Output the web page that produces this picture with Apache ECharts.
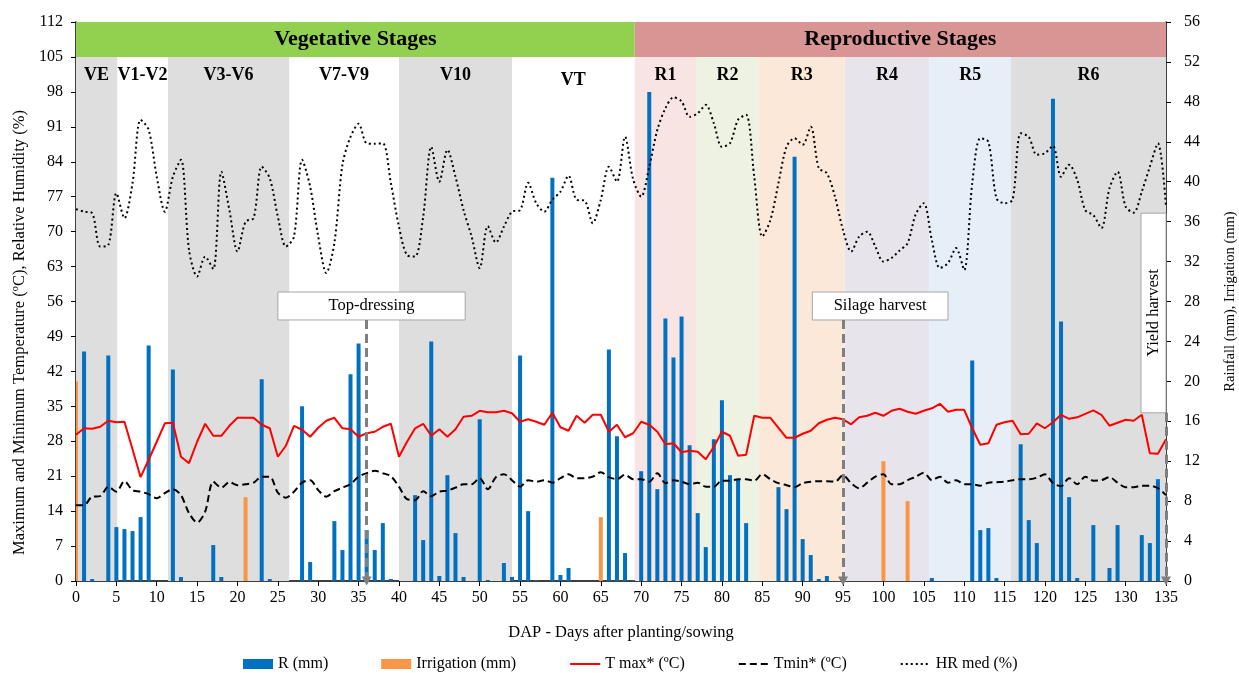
<!DOCTYPE html>
<html>
<head>
<meta charset="utf-8">
<script src="https://cdn.jsdelivr.net/npm/echarts@6/dist/echarts.min.js"></script>
<style>html,body{margin:0;padding:0;background:#fff;overflow:hidden}#c{width:1239px;height:673px}</style>
</head>
<body>
<div id="c"></div>
<script>
// ---------- DATA (day index 0..135) ----------
const rain = [0,23.0,0.2,0,22.6,5.4,5.2,5.0,6.4,23.6, 0,0,21.2,0.4,0,0,0,3.6,0.4,0,
  0,0,0,20.2,0.2,0,0,0,17.5,1.9, 0,0,6.0,3.1,20.7,23.8,5.1,3.1,5.8,0.2,
  0,0,8.6,4.1,24.0,0.5,10.6,4.8,0.4,0, 16.2,0.1,0,1.8,0.4,22.6,7.0,0.1,0,40.4,
  0.6,1.3,0,0,0,0,23.2,14.5,2.8,0.1, 11.0,49.0,9.2,26.3,22.4,26.5,13.6,6.8,3.4,14.2,
  18.1,10.6,10.2,5.8,0,0,0,9.4,7.2,42.5, 4.2,2.6,0.2,0.5,0,0,0,0,0,0,
  0,0,0,0,0,0,0.3,0,0,0, 0,22.1,5.1,5.3,0.3,0,0,13.7,6.1,3.8,
  0,48.3,26.0,8.4,0.3,0,5.6,0,1.3,5.6, 0,0,4.6,3.8,10.2,0];
const irrigationDays = [0, 21, 65, 100, 103];
const irrigationValues = [20.0, 8.4, 6.4, 12.0, 8.0];
const tmax = [29.3,30.6,30.5,30.9,32.1,31.8,31.9,26.4,20.8,24.3, 27.9,31.6,31.7,24.9,23.6,27.9,31.5,29.1,29.1,31.1,
  32.7,32.7,32.7,31.3,30.6,24.9,27.1,31.1,30.3,28.9, 30.7,32.1,32.7,30.6,30.4,28.9,29.6,29.9,30.9,31.5,
  24.9,27.9,30.6,31.5,29.1,30.4,28.9,30.4,32.9,33.1, 34.1,33.8,33.8,34.1,33.6,31.9,32.4,31.9,31.3,33.7,
  30.8,30.1,33.1,31.7,33.3,33.3,29.9,31.3,28.8,29.6, 31.9,31.3,29.9,27.4,27.6,25.8,26.1,25.9,24.4,26.9,
  29.9,29.1,25.1,25.3,33.1,32.7,32.7,30.7,28.7,28.7, 29.5,30.1,31.6,32.3,32.7,32.4,31.4,32.8,33.1,33.7,
  33.1,34.1,34.5,33.9,33.5,34.1,34.6,35.5,33.9,34.3, 34.3,30.6,27.3,27.6,31.3,31.8,32.1,29.4,29.5,31.6,
  30.6,31.8,33.3,32.5,32.8,33.5,34.2,33.3,31.1,31.7, 32.3,32.1,33.3,25.6,25.5,28.4];
const tmin = [15.2,15.2,16.9,17.0,18.9,17.9,20.0,18.2,17.9,17.4, 16.6,17.6,18.4,17.2,13.6,11.7,13.9,19.9,18.7,19.8,
  19.2,19.4,19.7,20.9,20.9,17.7,16.7,17.9,19.7,20.2, 18.2,16.9,18.0,18.7,19.4,20.9,21.6,22.1,21.6,21.0,
  18.9,16.4,16.2,18.0,17.0,17.9,18.1,18.7,19.4,19.4, 20.6,18.4,20.8,21.4,20.2,18.9,20.2,19.9,20.2,19.7,
  20.6,21.4,20.6,20.6,20.9,21.8,20.8,20.4,21.3,20.4, 20.4,19.9,21.6,19.6,20.2,19.9,19.4,19.7,18.9,18.9,
  20.1,20.1,20.4,20.4,20.1,21.4,20.4,19.6,19.2,18.8, 19.6,19.9,20.0,20.0,19.9,21.2,19.6,18.6,19.7,20.9,
  21.4,19.4,19.4,20.2,20.9,21.7,20.2,20.9,19.7,20.2, 19.4,19.4,19.1,19.7,19.8,19.9,20.2,20.4,20.4,20.7,
  21.4,19.6,19.0,20.6,19.4,20.9,20.1,20.2,20.8,19.7, 18.8,18.8,19.1,19.1,18.6,17.2];
const hr = [74.5,74.0,73.7,67.0,67.3,77.7,72.7,79.7,92.4,90.4, 81.0,74.0,81.0,84.4,66.3,61.0,65.0,62.5,82.0,74.3,
  66.0,72.0,72.7,83.0,80.7,73.0,67.0,69.0,84.4,79.0, 69.0,61.7,67.7,83.4,89.0,91.6,87.7,87.6,87.7,79.7,
  71.0,65.3,65.0,73.0,87.0,80.0,86.4,81.0,74.3,69.0, 62.7,71.1,67.8,71.0,74.0,74.3,79.8,75.7,74.0,76.4,
  78.0,81.2,76.4,76.2,71.7,76.4,83.0,80.0,89.0,80.5, 77.0,83.0,90.4,94.7,96.9,96.1,93.0,93.7,95.4,91.7,
  87.0,87.7,92.4,93.4,81.0,69.0,72.3,79.7,87.0,88.7, 87.4,91.0,82.7,81.7,77.0,70.3,66.0,69.0,70.0,67.0,
  64.0,64.7,66.2,67.7,73.5,75.7,68.3,62.7,63.7,66.7, 62.3,79.7,88.7,88.0,76.7,75.7,76.4,89.7,89.0,85.4,
  85.7,87.2,81.0,83.4,80.4,74.3,73.3,70.7,78.7,82.0, 75.0,73.8,78.0,83.0,87.7,75.0];
const stageNames = ['VE','V1-V2','V3-V6','V7-V9','V10','VT','R1','R2','R3','R4','R5','R6'];
const stageStart = [0, 5.1, 11.4, 26.4, 40, 54, 69.2, 76.8, 84.6, 95.2, 105.7, 115.8];
const stageEnd   = [5.1, 11.4, 26.4, 40, 54, 69.2, 76.8, 84.6, 95.2, 105.7, 115.8, 135];
const phaseNames = ['Vegetative Stages', 'Reproductive Stages'];
const phaseStart = [0, 69.2];
const phaseEnd = [69.2, 135];
const eventNames = ['Top-dressing', 'Silage harvest', 'Yield harvest'];
const eventDays = [36, 95, 135];
const leftTicks = {min: 0, max: 112, interval: 7};
const rightTicks = {min: 0, max: 56, interval: 4};

// ---------- STYLES ----------
const FONT = 'Liberation Serif';
const stageColors = ['#DEDEDE','rgba(0,0,0,0)','#DEDEDE','rgba(0,0,0,0)','#DEDEDE','rgba(0,0,0,0)',
  '#F9E4E4','#EEF2E2','#FCE8D8','#E8E4EC','#E6EEF8','#DEDEDE'];
const stageLabelGap = [9, 9, 9, 9, 9, 14, 9, 9, 9, 9, 9, 9];
const phaseColors = ['#92D050', '#D99594'];
const boxes = [
  {x0: 25, x1: 48.2, y0: 52.3, y1: 57.9, rotate: 0},
  {x0: 91.2, x1: 108, y0: 52.3, y1: 57.9, rotate: 0},
  {x0: 131.9, x1: 135.1, y0: 33.7, y1: 73.7, rotate: 90}
];
const BLUE = '#0070C0', ORANGE = '#F79646', BAR_W = 4;

const pairs = arr => arr.map((v, i) => [i, v]);

const bandData = stageNames.map((n, i) => [
  {name: n, xAxis: stageStart[i], yAxis: 0, itemStyle: {color: stageColors[i]},
   label: {distance: stageLabelGap[i]}},
  {xAxis: stageEnd[i], yAxis: 105}
]);
const phaseData = phaseNames.map((n, i) => [
  {name: n, xAxis: phaseStart[i], yAxis: 105, itemStyle: {color: phaseColors[i]},
   label: {position: 'inside', fontSize: 22, distance: 0}},
  {xAxis: phaseEnd[i], yAxis: 112}
]);
const boxData = eventNames.map((n, i) => [
  {name: n, xAxis: boxes[i].x0, yAxis: boxes[i].y0, label: {rotate: boxes[i].rotate}},
  {xAxis: boxes[i].x1, yAxis: boxes[i].y1}
]);
const arrowData = eventNames.map((n, i) => [
  {coord: [eventDays[i], boxes[i].y0]},
  {coord: [eventDays[i], 0]}
]);

function barRenderer(color) {
  return function (params, api) {
    const top = api.coord([api.value(0), api.value(1)]);
    const base = api.coord([api.value(0), 0]);
    return {
      type: 'rect',
      shape: {x: top[0] - BAR_W / 2, y: top[1], width: BAR_W, height: base[1] - top[1]},
      style: {fill: color}
    };
  };
}

const noSym = {color: 'rgba(0,0,0,0)', borderWidth: 0};

const chart = echarts.init(document.getElementById('c'));
chart.setOption({
  animation: false,
  textStyle: {fontFamily: FONT},
  grid: {left: 76, width: 1090, top: 22, height: 559, containLabel: false, outerBoundsMode: 'none'},
  legend: {
    left: 238, top: 651, itemWidth: 30, itemHeight: 10, itemGap: 53,
    textStyle: {fontFamily: FONT, fontSize: 16, color: '#000'},
    data: [
      {name: 'R (mm)', icon: 'rect', itemStyle: {color: BLUE}},
      {name: 'Irrigation (mm)', icon: 'rect', itemStyle: {color: ORANGE}},
      {name: 'T max* (ºC)', itemStyle: noSym},
      {name: 'Tmin* (ºC)', itemStyle: noSym},
      {name: 'HR med (%)', itemStyle: noSym}
    ]
  },
  xAxis: {
    type: 'value', min: 0, max: 135, interval: 5,
    name: 'DAP - Days after planting/sowing', nameLocation: 'middle', nameGap: 43,
    nameTextStyle: {fontFamily: FONT, fontSize: 16.5, color: '#000'},
    axisLine: {lineStyle: {color: '#000', width: 1.5}},
    axisTick: {show: true, length: 5, lineStyle: {color: '#000'}},
    axisLabel: {fontFamily: FONT, fontSize: 16, color: '#000', margin: 9},
    splitLine: {show: false}
  },
  yAxis: [
    {
      type: 'value', min: leftTicks.min, max: leftTicks.max, interval: leftTicks.interval,
      name: 'Maximum and Minimum Temperature (ºC), Relative Humidity (%)',
      nameLocation: 'middle', nameGap: 47, nameRotate: 90,
      nameTextStyle: {fontFamily: FONT, fontSize: 16.5, color: '#000', padding: [0, 62, 0, 0]},
      axisLine: {show: true, lineStyle: {color: '#000', width: 1.5}},
      axisTick: {show: true, length: 5, lineStyle: {color: '#000'}},
      axisLabel: {fontFamily: FONT, fontSize: 16, color: '#000', margin: 13},
      splitLine: {show: false}
    },
    {
      type: 'value', min: rightTicks.min, max: rightTicks.max, interval: rightTicks.interval,
      position: 'right',
      name: 'Rainfall (mm), Irrigation (mm)', nameLocation: 'middle', nameGap: 57, nameRotate: 90,
      nameTextStyle: {fontFamily: FONT, fontSize: 14.5, color: '#000'},
      axisLine: {show: true, lineStyle: {color: '#000', width: 1.5}},
      axisTick: {show: true, length: 5, lineStyle: {color: '#000'}},
      axisLabel: {fontFamily: FONT, fontSize: 16, color: '#000', margin: 18},
      splitLine: {show: false}
    }
  ],
  series: [
    {
      name: 'bands', type: 'line', data: [], z: 0, silent: true, yAxisIndex: 0,
      markArea: {
        silent: true,
        label: {show: true, position: 'insideTop', fontFamily: FONT, fontSize: 18,
                fontWeight: 'bold', color: '#000'},
        data: bandData.concat(phaseData)
      }
    },
    {
      name: 'R (mm)', type: 'custom', yAxisIndex: 1, z: 2, clip: true,
      itemStyle: {color: BLUE},
      encode: {x: 0, y: 1},
      renderItem: barRenderer(BLUE),
      data: pairs(rain).filter(p => p[1] > 0)
    },
    {
      name: 'Irrigation (mm)', type: 'custom', yAxisIndex: 1, z: 2, clip: true,
      itemStyle: {color: ORANGE},
      encode: {x: 0, y: 1},
      renderItem: barRenderer(ORANGE),
      data: irrigationDays.map((d, i) => [d, irrigationValues[i]])
    },
    {
      name: 'T max* (ºC)', type: 'line', yAxisIndex: 0, symbol: 'none', z: 3,
      lineStyle: {color: '#FF0000', width: 2}, itemStyle: {color: '#FF0000'},
      data: pairs(tmax)
    },
    {
      name: 'Tmin* (ºC)', type: 'line', yAxisIndex: 0, symbol: 'none', z: 3, smooth: 0.3,
      lineStyle: {color: '#000', width: 2, type: [7, 4]}, itemStyle: {color: '#000'},
      data: pairs(tmin)
    },
    {
      name: 'HR med (%)', type: 'line', yAxisIndex: 0, symbol: 'none', z: 3, smooth: 0.3,
      lineStyle: {color: '#000', width: 2, type: [2, 3]}, itemStyle: {color: '#000'},
      data: pairs(hr)
    },
    {
      name: 'events', type: 'line', data: [], z: 5, silent: true, yAxisIndex: 0,
      markArea: {
        silent: true,
        itemStyle: {color: '#FFFFFF', borderColor: '#A6A6A6', borderWidth: 1},
        label: {show: true, position: 'inside', fontFamily: FONT, fontSize: 16.5, color: '#000'},
        data: boxData
      },
      markLine: {
        silent: true, symbol: ['none', 'triangle'], symbolSize: [10, 9],
        label: {show: false},
        lineStyle: {color: '#7F7F7F', width: 3, type: [9, 5]},
        data: arrowData
      }
    }
  ]
});
</script>
</body>
</html>
